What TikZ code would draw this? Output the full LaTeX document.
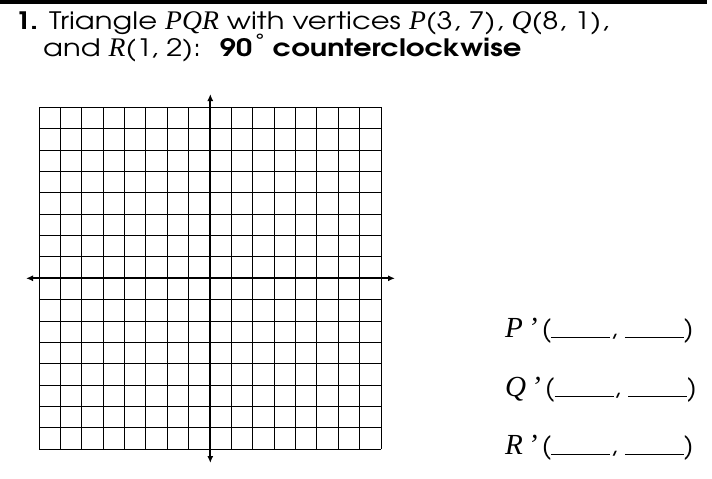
\documentclass[tikz,border=0pt]{standalone}
\usepackage{fontspec}
\setmainfont{TeX Gyre Adventor}
\newfontfamily\serf{Liberation Serif}[Scale=1.12]
\usetikzlibrary{arrows.meta}
\newcommand{\vi}[1]{{\serf\itshape #1}}
\newcommand{\vis}[1]{\scalebox{0.85}[1]{\serf\itshape #1}}
\newcommand{\blankline}{\rule[-0.5pt]{59pt}{1pt}}
\tikzset{
  gridline/.style={line width=1pt, black},
  axisline/.style={line width=2.2pt, black, {Latex[length=7pt,width=6pt]}-{Latex[length=7pt,width=6pt]}},
  headtext/.style={anchor=base west, inner sep=0pt, xscale=1.21, font=\fontsize{24}{28}\selectfont},
  anstext/.style={anchor=base west, inner sep=0pt, font=\fontsize{26}{30}\selectfont}
}
\begin{document}
\begin{tikzpicture}[x=1pt,y=-1pt]
\useasboundingbox (0,0) rectangle (712,479);
\fill[black] (0,0) rectangle (707,3.5);
\node[headtext] (l1) at (15,29) {\textbf{1.} Triangle \vis{PQR} with vertices \vis{P}(3, 7), \vis{Q}(8, 1),};
\node[headtext] (l2) at (43,56) {and \vis{R}(1, 2): \ \textbf{90\textsuperscript{\,\textdegree} counterclockwise}};
% grid
\foreach \i in {0,...,16} {
  \draw[gridline] ({39+\i*21.375},107.3) -- ({39+\i*21.375},449.3);
  \draw[gridline] (39,{107.3+\i*21.375}) -- (381,{107.3+\i*21.375});
}
\coordinate (yt) at (210.3,94);
\coordinate (yb) at (210.3,463);
\coordinate (xl) at (26,278.3);
\coordinate (xr) at (395,278.3);
\draw[axisline] (yb) -- (yt);
\draw[axisline] (xl) -- (xr);
% answers
\node[anstext] (pa) at (505,337) {\vi{P\,’}\,(\blankline, \blankline)};
\node[anstext] (qa) at (505,396) {\vi{Q\,’}\,(\blankline, \blankline)};
\node[anstext] (ra) at (505,454) {\vi{R\,’}\,(\blankline, \blankline)};
\end{tikzpicture}
\end{document}
